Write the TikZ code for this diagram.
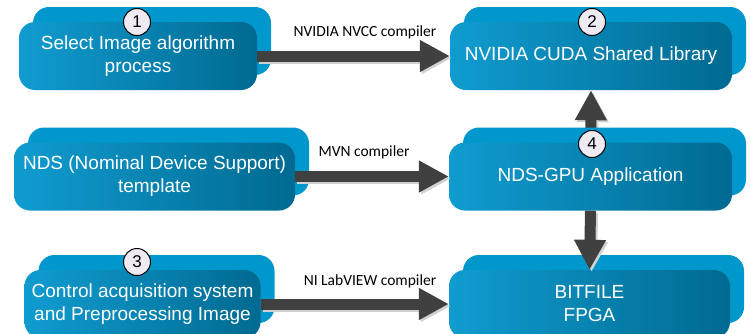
\documentclass[tikz,border=0pt]{standalone}
\usepackage{fontspec}
\newfontfamily\arialf{Liberation Sans}
\newfontfamily\calf{Carlito}
\usetikzlibrary{arrows.meta,shadows,backgrounds,calc}
\definecolor{backblue}{RGB}{0,152,204}
\definecolor{frontL}{RGB}{16,156,208}
\definecolor{frontR}{RGB}{0,106,145}
\definecolor{arrgray}{RGB}{64,64,64}
\definecolor{circfill}{RGB}{238,234,242}
\tikzset{
  box/.style={rectangle, rounded corners=16pt, inner sep=0pt,
    minimum height=68pt, left color=frontL, right color=frontR,
    general shadow={fill=backblue, shadow xshift=14pt, shadow yshift=15pt},
    text=white, align=center, font=\arialf\fontsize{19}{23}\selectfont},
  num/.style={circle, draw=black, line width=1pt, fill=circfill, inner sep=0pt,
    minimum size=27pt, font=\arialf\fontsize{17}{17}\selectfont},
  bigarrow/.style={draw=arrgray, line width=11pt,
    -{Triangle[length=30pt,width=30pt]},
    preaction={draw=black!18, line width=11pt, -{Triangle[length=30pt,width=30pt]},
      transform canvas={shift={(2pt,-2pt)}}}},
  lbl/.style={font=\calf\fontsize{15.5}{17}\selectfont, text=black, inner sep=0pt}
}
\begin{document}
\begin{tikzpicture}[x=1pt,y=-1pt]
\useasboundingbox (0,0) rectangle (751,333);
% boxes
\node[box, minimum width=238pt] (s1) at (138,56) {Select Image algorithm\\process};
\node[box, minimum width=282pt] (cuda) at (591,56) {NVIDIA CUDA Shared Library};
\node[box, minimum width=281pt] (nds) at (154.5,176.5) {NDS (Nominal Device Support)\\template};
\node[box, minimum width=283pt] (gpu) at (590.5,176.5) {NDS-GPU Application};
\node[box, minimum width=236pt] (s3) at (142.5,304) {Control acquisition system\\and Preprocessing Image};
\node[box, minimum width=281pt] (bit) at (589.5,304) {BITFILE\\FPGA};
% arrows
\begin{scope}[on background layer]
\draw[bigarrow] (gpu.center) -- (cuda.south);
\end{scope}
\draw[bigarrow] (s1.east) -- (cuda.west);
\draw[bigarrow] (nds.east) -- (gpu.west);
\draw[bigarrow] (s3.east) -- (bit.west);
\draw[bigarrow] (gpu.south) -- (bit.north);
% labels
\node[lbl] (l1) at (365,32) {NVIDIA NVCC compiler};
\node[lbl] (l2) at (364,152) {MVN compiler};
\node[lbl] (l3) at (370,281) {NI LabVIEW compiler};
% numbers
\node[num] (n1) at (137,22) {1};
\node[num] (n2) at (592,22) {2};
\node[num] (n4) at (592,144) {4};
\node[num] (n3) at (137,262) {3};
\end{tikzpicture}
\end{document}
